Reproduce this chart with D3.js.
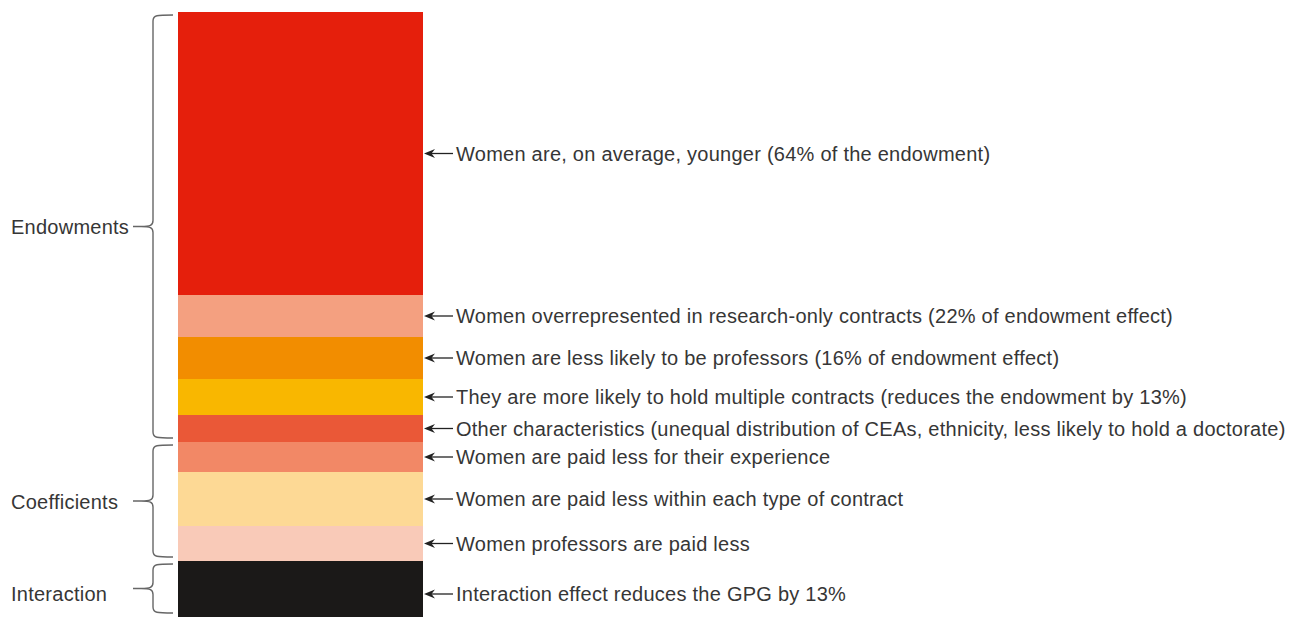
<!DOCTYPE html>
<html>
<head>
<meta charset="utf-8">
<script src="https://cdn.jsdelivr.net/npm/d3@7"></script>
<style>
  body { margin: 0; background: #fff; overflow: hidden; }
  svg { display: block; }
  svg text { font-family: "Liberation Sans", Arial, sans-serif; fill: #363636; font-size: 20px; letter-spacing: 0.25px; }
</style>
</head>
<body>
<svg width="1297" height="617"></svg>
<script>
// share of the gender pay gap, top to bottom (bottom segment runs off the picture)
const labels = [
  "Women are, on average, younger (64% of the endowment)",
  "Women overrepresented in research-only contracts (22% of endowment effect)",
  "Women are less likely to be professors (16% of endowment effect)",
  "They are more likely to hold multiple contracts (reduces the endowment by 13%)",
  "Other characteristics (unequal distribution of CEAs, ethnicity, less likely to hold a doctorate)",
  "Women are paid less for their experience",
  "Women are paid less within each type of contract",
  "Women professors are paid less",
  "Interaction effect reduces the GPG by 13%"
];
const values = [28.3, 4.2, 4.2, 3.6, 2.7, 3.0, 5.4, 3.5, 6.6];
const colors = ["#e51f0c", "#f4a080", "#f28d00", "#f9b700", "#ea5837", "#f28866", "#fdd995", "#f9cab8", "#1b1918"];
const groupNames = ["Endowments", "Coefficients", "Interaction"];
const groupOf = [0, 0, 0, 0, 0, 1, 1, 1, 2];

const svg = d3.select("svg"),
    height = +svg.attr("height"),
    barLeft = 178, barRight = 423,
    barTop = 12, barBottom = 627;

let acc = 0;
const data = values.map((v, i) => {
  const d = { label: labels[i], value: v, color: colors[i], group: groupOf[i], y0: acc, y1: acc + v };
  acc += v;
  return d;
});

const y = d3.scaleLinear().domain([0, acc]).range([barTop, barBottom]);

svg.selectAll("rect.seg")
  .data(data)
  .enter().append("rect")
    .attr("class", "seg")
    .attr("x", barLeft)
    .attr("width", barRight - barLeft)
    .attr("y", d => y(d.y0))
    .attr("height", d => y(d.y1) - y(d.y0))
    .attr("fill", d => d.color);

// arrows + labels
const ann = svg.selectAll("g.ann")
  .data(data)
  .enter().append("g")
    .attr("class", "ann")
    .attr("transform", d => "translate(" + barRight + "," + (y(d.y0) + y(d.y1)) / 2 + ")");

ann.append("line")
    .attr("x1", 30).attr("x2", 6)
    .attr("stroke", "#222")
    .attr("stroke-width", 1.3);

ann.append("path")
    .attr("d", "M1,0 L12,-4.5 L8.5,0 L12,4.5 Z")
    .attr("fill", "#222");

ann.append("text")
    .attr("x", 33)
    .attr("dy", "0.35em")
    .text(d => d.label);

// braces
const groups = groupNames.map((name, g) => {
  const segs = data.filter(d => d.group === g);
  return { name: name, y0: segs[0].y0, y1: segs[segs.length - 1].y1 };
});

function brace(a, b) {
  const xe = 173, xv = 153, xt = 133, m = (a + b) / 2;
  return "M" + xe + "," + a +
    " C" + (xv + 4) + "," + a + " " + xv + "," + a + " " + xv + "," + (a + 6) +
    " L" + xv + "," + (m - 6) +
    " C" + xv + "," + (m - 1) + " " + (xv - 3) + "," + m + " " + (xv - 12) + "," + m +
    " L" + xt + "," + m +
    " M" + (xv - 12) + "," + m +
    " C" + (xv - 3) + "," + m + " " + xv + "," + (m + 1) + " " + xv + "," + (m + 6) +
    " L" + xv + "," + (b - 6) +
    " C" + xv + "," + b + " " + (xv + 4) + "," + b + " " + xe + "," + b;
}

svg.selectAll("path.brace")
  .data(groups)
  .enter().append("path")
    .attr("class", "brace")
    .attr("d", d => brace(y(d.y0) + 3, Math.min(y(d.y1) - 4, height - 4)))
    .attr("fill", "none")
    .attr("stroke", "#666")
    .attr("stroke-width", 1.4);

svg.selectAll("text.group")
  .data(groups)
  .enter().append("text")
    .attr("class", "group")
    .attr("x", 11)
    .attr("y", d => (y(d.y0) + y(d.y1)) / 2)
    .attr("dy", "0.35em")
    .text(d => d.name);
</script>
</body>
</html>
